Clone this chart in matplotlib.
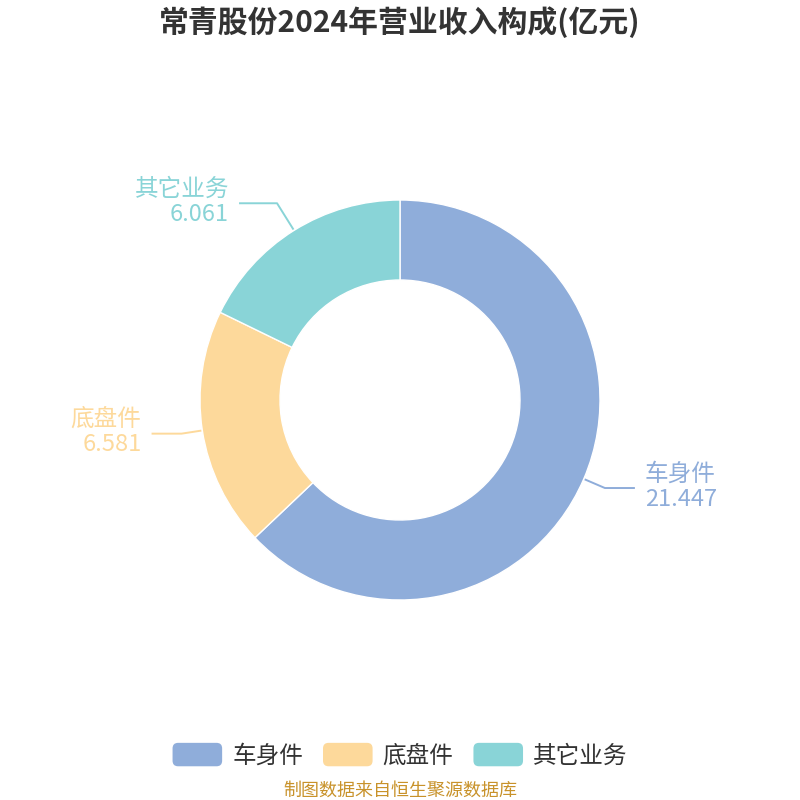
import numpy as np
import matplotlib
matplotlib.use("Agg")
import matplotlib.pyplot as plt
from matplotlib.patches import Patch, FancyBboxPatch
from matplotlib.legend_handler import HandlerPatch

plt.rcParams['font.family'] = ['Noto Sans CJK SC', 'DejaVu Sans']

# data
categories = ['车身件', '底盘件', '其它业务']
values = [21.447, 6.581, 6.061]
value_labels = ['21.447', '6.581', '6.061']
colors = ['#8FADDA', '#FDD99B', '#89D4D7']
title = '常青股份2024年营业收入构成(亿元)'
source = '制图数据来自恒生聚源数据库'

# leader line lengths (px) per label: radial part, horizontal part
leader_len = [22, 20, 31]
leader_h = [30, 30, 38]


class RoundHandler(HandlerPatch):
    def create_artists(self, legend, orig_handle, xdescent, ydescent,
                       width, height, fontsize, trans):
        p = FancyBboxPatch((-xdescent, -ydescent), width, height,
                           boxstyle='round,pad=0,rounding_size=4',
                           facecolor=orig_handle.get_facecolor(),
                           edgecolor='none', transform=trans)
        return [p]


fig = plt.figure(figsize=(8, 8), dpi=100)
ax = fig.add_axes([0, 0, 1, 1])

wedges, _ = ax.pie(values, colors=colors, startangle=90, counterclock=False,
                   radius=200, center=(400, 400),
                   wedgeprops=dict(width=80, edgecolor='white', linewidth=1.0))
ax.set_xlim(0, 800)
ax.set_ylim(0, 800)
ax.set_aspect('equal')
ax.axis('off')

# leader lines and labels
for w, cat, lab, col, ln, lh in zip(wedges, categories, value_labels, colors,
                                    leader_len, leader_h):
    ang = np.deg2rad((w.theta1 + w.theta2) / 2)
    x0 = 400 + 201 * np.cos(ang)
    y0 = 400 + 201 * np.sin(ang)
    x1 = 400 + (201 + ln) * np.cos(ang)
    y1 = 400 + (201 + ln) * np.sin(ang)
    side = 1 if np.cos(ang) >= 0 else -1
    x2 = x1 + side * lh
    ax.plot([x0, x1, x2], [y0, y1, y1], color=col, lw=1.4, solid_capstyle='butt')
    ha = 'left' if side > 0 else 'right'
    xt = x2 + side * 10
    ax.text(xt, y1 + 14, cat, ha=ha, va='center', fontsize=17, color=col)
    ax.text(xt, y1 - 11, lab, ha=ha, va='center', fontsize=17, color=col)

fig.text(0.5, 0.972, title, ha='center', va='center', fontsize=21.5,
         fontweight='bold', color='#333333')

handles = [Patch(facecolor=c, edgecolor='none') for c in colors]
fig.legend(handles, categories, loc='center', bbox_to_anchor=(0.5, 0.056),
           ncol=3, frameon=False, fontsize=17, handlelength=2.1,
           handleheight=1.15, columnspacing=0.85, handletextpad=0.42,
           labelcolor='#333333',
           handler_map={Patch: RoundHandler()})

fig.text(0.5, 0.012, source, ha='center', va='center', fontsize=13,
         color='#C8922A')

fig.savefig('out.png', dpi=100, facecolor='white')
